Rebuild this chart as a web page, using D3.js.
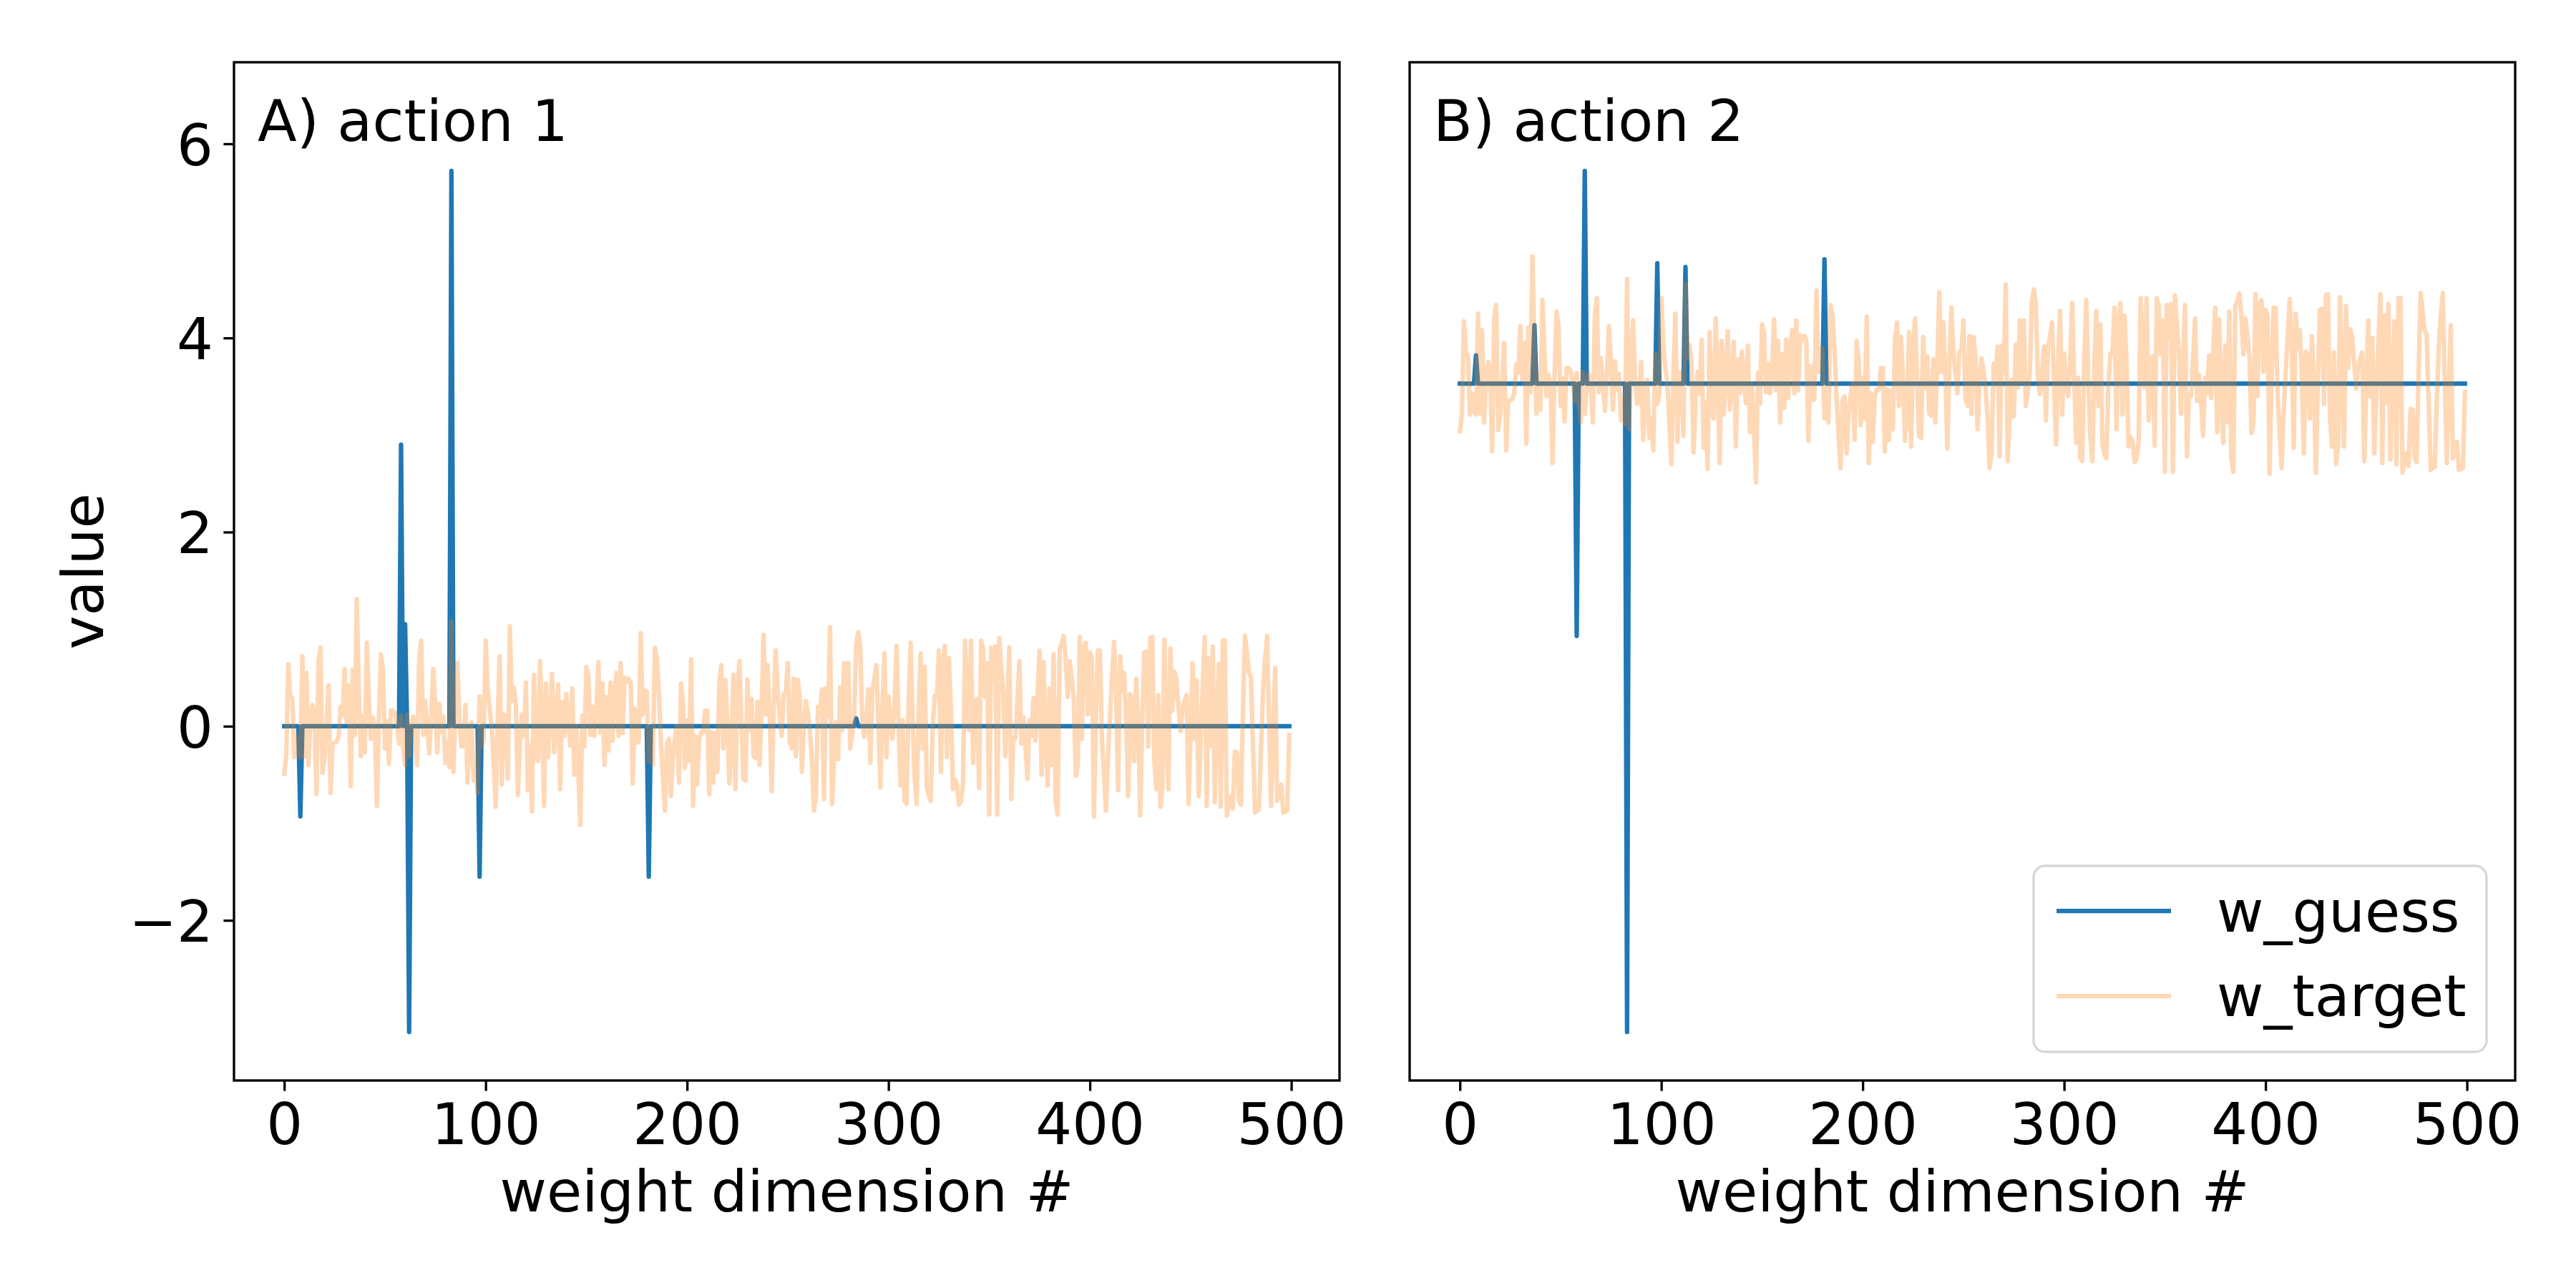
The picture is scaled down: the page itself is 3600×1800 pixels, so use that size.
<!DOCTYPE html>
<html><head><meta charset="utf-8">
<script src="https://cdn.jsdelivr.net/npm/d3@7"></script>
<style>body{margin:0;background:#fff}svg{display:block}</style>
</head><body><svg id="chart" width="3600" height="1800"></svg>
<script>
// ---------- data ----------
const xTicks = [0, 100, 200, 300, 400, 500];
const yTicks = [-2, 0, 2, 4, 6];
const panelTitles = ["A) action 1", "B) action 2"];
const seriesNames = ["w_guess", "w_target"];
const xLabelText = "weight dimension #";
const yLabelText = "value";

// w_guess polylines (index, value) – flat except for the spikes
const guess1X = [0,7,8,9,57,58,59,60,61,62,63,82,83,84,96,97,98,180,181,182,283,284,285,499];
const guess1Y = [0,0,-0.93,0,0,2.90,0,1.05,0,-3.15,0,0,5.72,0,0,-1.55,0,0,-1.55,0,0,0.08,0,0];
const guess2X = [0,7,8,9,36,37,38,57,58,59,61,62,63,82,83,84,97,98,99,111,112,113,180,181,182,499];
const guess2Y = [3.53,3.53,3.82,3.53,3.53,4.13,3.53,3.53,0.93,3.53,3.53,5.72,3.53,3.53,-3.15,3.53,3.53,4.77,3.53,3.53,4.73,3.53,3.53,4.81,3.53,3.53];

// w_target, one value per weight dimension 0..499
const target1 = [
-0.49,-0.31,0.64,0.31,0.29,-0.32,-0.10,-0.28,-0.32,0.72,
-0.31,0.55,-0.40,0.05,0.22,0.13,-0.70,0.67,0.81,-0.48,
-0.33,0.05,0.42,-0.69,-0.18,-0.17,-0.16,-0.10,0.20,0.11,
0.59,0.04,0.42,-0.62,0.58,-0.09,1.31,0.40,-0.31,0.10,
-0.27,0.86,0.30,-0.13,0.09,-0.04,-0.82,0.10,0.74,0.58,
-0.23,0.05,-0.39,0.16,0.16,0.13,0.01,-0.18,0.11,-0.21,
-0.40,0.12,-0.31,-0.01,0.10,-0.04,-0.40,0.70,0.88,-0.09,
0.26,0.00,-0.28,0.10,0.59,0.21,-0.27,0.23,-0.06,0.10,
-0.38,-0.16,-0.42,1.08,-0.47,0.20,0.65,0.05,-0.21,-0.20,
0.22,-0.58,-0.10,0.04,-0.56,-0.36,-0.69,0.31,-0.21,-0.13,
0.88,0.40,0.16,0.01,-0.40,-0.83,0.10,0.72,-0.60,0.12,
0.10,-0.54,1.03,0.26,0.40,0.22,-0.71,-0.20,0.12,-0.10,
0.45,-0.66,-0.20,-0.88,0.53,-0.31,-0.36,0.67,0.10,-0.82,
0.44,-0.32,0.10,0.54,-0.27,0.05,0.43,-0.65,0.25,-0.10,
0.33,0.04,-0.20,0.39,-0.50,0.00,-0.48,-1.02,0.11,-0.21,
0.61,0.53,-0.09,0.20,-0.10,0.20,0.66,-0.07,0.44,-0.40,
0.30,-0.25,0.45,-0.15,0.35,
0.55,-0.10,0.65,-0.07,0.50,0.45,0.49,0.45,-0.59,0.18,
-0.17,-0.16,0.96,0.12,0.37,0.36,-0.36,-0.05,-0.40,0.81,
0.70,0.35,-0.16,-0.53,-0.87,-0.18,-0.13,-0.72,-0.30,-0.11,
0.00,-0.58,0.44,0.23,-0.43,0.06,-0.36,0.69,-0.82,-0.10,
-0.60,-0.13,-0.06,-0.06,0.16,0.16,-0.70,-0.06,-0.58,-0.07,
-0.47,0.45,0.63,-0.23,0.48,0.04,-0.59,-0.21,0.53,-0.65,
0.37,0.67,0.04,-0.54,-0.56,0.48,-0.04,0.28,-0.31,-0.33,
0.25,-0.40,0.16,0.94,0.12,0.63,0.13,-0.67,0.16,0.78,
0.36,0.11,-0.10,0.33,0.34,0.65,-0.16,-0.23,0.49,-0.31,
0.48,0.28,-0.47,0.01,0.26,0.13,-0.04,-0.36,-0.87,-0.72,
0.20,0.13,0.38,-0.75,0.39,0.11,1.02,-0.80,-0.33,0.04,
-0.34,0.40,-0.04,0.65,0.01,0.65,-0.23,-0.09,0.11,0.85,
0.97,0.82,0.04,-0.11,0.06,0.38,-0.38,0.38,0.48,0.63,
0.01,-0.63,0.23,0.75,-0.32,0.31,0.01,-0.13,0.23,0.83,
0.04,-0.61,0.06,-0.77,-0.80,0.26,0.86,0.04,-0.53,-0.80,
0.18,0.75,-0.23,0.61,-0.63,-0.72,-0.77,0.01,0.31,0.31,
0.78,-0.47,0.63,0.83,-0.32,0.70,0.20,-0.65,
-0.55,-0.60,-0.81,-0.77,-0.60,0.88,0.40,-0.04,0.88,-0.38,
0.26,0.28,-0.64,0.88,0.80,0.30,0.65,-0.91,0.81,0.48,
0.82,-0.91,0.91,0.60,0.33,-0.31,0.20,0.81,-0.75,-0.11,
-0.13,0.25,0.67,-0.18,0.09,-0.20,-0.54,0.06,-0.10,0.29,
-0.15,0.30,0.78,-0.50,0.66,-0.09,-0.61,0.39,-0.40,0.74,
-0.77,-0.91,0.80,0.85,0.93,0.70,0.30,0.67,0.50,0.28,
-0.51,-0.40,0.92,-0.13,0.82,0.86,0.12,0.76,0.70,-0.93,
0.06,0.78,0.78,-0.13,-0.50,-0.87,-0.30,0.11,0.50,0.87,
0.36,-0.66,0.72,0.36,0.55,0.10,-0.72,0.33,0.29,-0.36,
0.49,0.04,-0.92,0.04,0.76,0.77,-0.21,0.91,0.92,-0.36,
-0.65,0.32,-0.83,-0.63,0.89,-0.06,-0.65,0.80,0.16,0.56,
0.48,0.20,-0.05,0.18,0.26,0.32,-0.80,-0.10,0.65,-0.13,
0.47,-0.72,-0.13,0.40,0.92,-0.82,0.70,-0.20,0.82,-0.78,
0.01,0.64,-0.83,0.88,0.88,-0.92,-0.80,-0.72,-0.85,-0.26,
-0.27,-0.76,-0.81,0.13,0.93,0.75,0.55,0.50,-0.20,-0.89,
-0.87,-0.86,-0.20,0.38,0.70,0.93,0.01,-0.82,-0.04,0.60,
-0.77,-0.70,-0.60,-0.89,-0.88,-0.87,-0.09
];
const target2 = [
3.04,3.22,4.17,3.84,3.82,3.21,3.43,3.25,3.21,4.25,
3.22,4.08,3.13,3.58,3.75,3.66,2.83,4.20,4.34,3.05,
3.20,3.58,3.95,2.84,3.35,3.36,3.37,3.43,3.73,3.64,
4.12,3.57,3.95,2.91,4.11,3.44,4.84,3.93,3.22,3.63,
3.26,4.39,3.83,3.40,3.62,3.49,2.71,3.63,4.27,4.11,
3.30,3.58,3.14,3.69,3.69,3.66,3.54,3.35,3.64,3.32,
3.13,3.65,3.22,3.52,3.63,3.49,3.13,4.23,4.41,3.44,
3.79,3.53,3.25,3.63,4.12,3.74,3.26,3.76,3.47,3.63,
3.15,3.37,3.11,4.61,3.06,3.73,4.18,3.58,3.32,3.33,
3.75,2.95,3.43,3.57,2.97,3.17,2.84,3.84,3.32,3.40,
4.41,3.93,3.69,3.54,3.13,2.70,3.63,4.25,2.93,3.65,
3.63,2.99,4.56,3.79,3.93,3.75,2.82,3.33,3.65,3.43,
3.98,2.87,3.33,2.65,4.06,3.22,3.17,4.20,3.63,2.71,
3.97,3.21,3.63,4.07,3.26,3.58,3.96,2.88,3.78,3.43,
3.86,3.57,3.33,3.92,3.03,3.53,3.05,2.51,3.64,3.32,
4.14,4.06,3.44,3.73,3.43,3.73,4.19,3.46,3.97,3.13,
3.83,3.28,3.98,3.38,3.88,
4.08,3.43,4.18,3.46,4.03,3.98,4.02,3.98,2.94,3.71,
3.36,3.37,4.49,3.65,3.90,3.89,3.17,3.48,3.13,4.34,
4.23,3.88,3.37,3.00,2.66,3.35,3.40,2.81,3.23,3.42,
3.53,2.95,3.97,3.76,3.10,3.59,3.17,4.22,2.71,3.43,
2.93,3.40,3.47,3.47,3.69,3.69,2.83,3.47,2.95,3.46,
3.06,3.98,4.16,3.30,4.01,3.57,2.94,3.32,4.06,2.88,
3.90,4.20,3.57,2.99,2.97,4.01,3.49,3.81,3.22,3.20,
3.78,3.13,3.69,4.47,3.65,4.16,3.66,2.86,3.69,4.31,
3.89,3.64,3.43,3.86,3.87,4.18,3.37,3.30,4.02,3.22,
4.01,3.81,3.06,3.54,3.79,3.66,3.49,3.17,2.66,2.81,
3.73,3.66,3.91,2.78,3.92,3.64,4.55,2.73,3.20,3.57,
3.19,3.93,3.49,4.18,3.54,4.18,3.30,3.44,3.64,4.38,
4.50,4.35,3.57,3.42,3.59,3.91,3.15,3.91,4.01,4.16,
3.54,2.90,3.76,4.28,3.21,3.84,3.54,3.40,3.76,4.36,
3.57,2.92,3.59,2.76,2.73,3.79,4.39,3.57,3.00,2.73,
3.71,4.28,3.30,4.14,2.90,2.81,2.76,3.54,3.84,3.84,
4.31,3.06,4.16,4.36,3.21,4.23,3.73,2.88,
2.98,2.93,2.72,2.76,2.93,4.41,3.93,3.49,4.41,3.15,
3.79,3.81,2.89,4.41,4.33,3.83,4.18,2.62,4.34,4.01,
4.35,2.62,4.44,4.13,3.86,3.22,3.73,4.34,2.78,3.42,
3.40,3.78,4.20,3.35,3.62,3.33,2.99,3.59,3.43,3.82,
3.38,3.83,4.31,3.03,4.19,3.44,2.92,3.92,3.13,4.27,
2.76,2.62,4.33,4.38,4.46,4.23,3.83,4.20,4.03,3.81,
3.02,3.13,4.45,3.40,4.35,4.39,3.65,4.29,4.23,2.60,
3.59,4.31,4.31,3.40,3.03,2.66,3.23,3.64,4.03,4.40,
3.89,2.87,4.25,3.89,4.08,3.63,2.81,3.86,3.82,3.17,
4.02,3.57,2.61,3.57,4.29,4.30,3.32,4.44,4.45,3.17,
2.88,3.85,2.70,2.90,4.42,3.47,2.88,4.33,3.69,4.09,
4.01,3.73,3.48,3.71,3.79,3.85,2.73,3.43,4.18,3.40,
4.00,2.81,3.40,3.93,4.45,2.71,4.23,3.33,4.35,2.75,
3.54,4.17,2.70,4.41,4.41,2.61,2.73,2.81,2.68,3.27,
3.26,2.77,2.72,3.66,4.46,4.28,4.08,4.03,3.33,2.64,
2.66,2.67,3.33,3.91,4.23,4.46,3.54,2.71,3.49,4.13,
2.76,2.83,2.93,2.64,2.65,2.66,3.44
];
const xDomain = [-24.95, 523.95];
const yDomain = [-3.65, 6.84];

// ---------- drawing ----------
const FONT = '"DejaVu Sans", sans-serif';
const FS = 80;
const C0 = "#1f77b4", C1 = "#ff7f0e";
const LW = 6.25, SW = 3.33, TICK = 14.6, PAD = 14.6;
const TOP = 87, BOTTOM = 1510;

const svg = d3.select("#chart");
svg.append("rect").attr("width", 3600).attr("height", 1800).attr("fill", "#fff");

const y = d3.scaleLinear().domain(yDomain).range([BOTTOM, TOP]);

const panels = [
  {x0: 327, x1: 1872, title: panelTitles[0], gx: guess1X, gy: guess1Y, t: target1, showY: true, legend: false},
  {x0: 1970, x1: 3515, title: panelTitles[1], gx: guess2X, gy: guess2Y, t: target2, showY: false, legend: true}
];

function styleAxis(g) {
  g.select(".domain").remove();
  g.selectAll(".tick line").attr("stroke", "#000").attr("stroke-width", SW);
  g.selectAll(".tick text").attr("fill", "#000").style("font-family", FONT).style("font-size", FS + "px");
}

panels.forEach(p => {
  const x = d3.scaleLinear().domain(xDomain).range([p.x0, p.x1]);
  const g = svg.append("g");
  const line = d3.line().x(d => x(d[0])).y(d => y(d[1]));

  g.append("path")
    .datum(p.gx.map((v, i) => [v, p.gy[i]]))
    .attr("d", line).attr("fill", "none")
    .attr("stroke", C0).attr("stroke-width", LW)
    .attr("stroke-linejoin", "round").attr("stroke-linecap", "square");

  g.append("path")
    .datum(p.t.map((v, i) => [i, v]))
    .attr("d", line).attr("fill", "none")
    .attr("stroke", C1).attr("stroke-opacity", 0.3).attr("stroke-width", LW)
    .attr("stroke-linejoin", "round").attr("stroke-linecap", "square");

  // frame
  g.append("rect").attr("x", p.x0).attr("y", TOP)
    .attr("width", p.x1 - p.x0).attr("height", BOTTOM - TOP)
    .attr("fill", "none").attr("stroke", "#000").attr("stroke-width", SW);

  // x axis
  const xa = g.append("g").attr("transform", `translate(0,${BOTTOM})`)
    .call(d3.axisBottom(x).tickValues(xTicks).tickSize(TICK).tickPadding(PAD).tickSizeOuter(0).tickFormat(d3.format("d")));
  styleAxis(xa);
  xa.selectAll(".tick text").attr("dy", "0.75em");

  g.append("text").text(xLabelText)
    .attr("x", (p.x0 + p.x1) / 2).attr("y", 1693)
    .attr("text-anchor", "middle")
    .style("font-family", FONT).style("font-size", FS + "px").attr("fill", "#000");

  if (p.showY) {
    const ya = g.append("g").attr("transform", `translate(${p.x0},0)`)
      .call(d3.axisLeft(y).tickValues(yTicks).tickSize(TICK).tickPadding(PAD).tickSizeOuter(0).tickFormat(d3.format("d")));
    styleAxis(ya);
    ya.selectAll(".tick text").attr("dy", "0.3645em");
    g.append("text").text(yLabelText)
      .attr("transform", `translate(144,${(TOP + BOTTOM) / 2}) rotate(-90)`)
      .attr("text-anchor", "middle")
      .style("font-family", FONT).style("font-size", FS + "px").attr("fill", "#000");
  }

  // panel title
  g.append("text").text(p.title)
    .attr("x", p.x0 + 33).attr("y", 197)
    .style("font-family", FONT).style("font-size", FS + "px").attr("fill", "#000");

  if (p.legend) {
    const lx = 2842, ly = 1210, lw = 633, lh = 260;
    const lg = g.append("g");
    lg.append("rect").attr("x", lx).attr("y", ly).attr("width", lw).attr("height", lh)
      .attr("rx", 16).attr("ry", 16)
      .attr("fill", "#fff").attr("fill-opacity", 0.8)
      .attr("stroke", "#cccccc").attr("stroke-opacity", 0.8).attr("stroke-width", SW);
    const rows = [
      {name: seriesNames[0], color: C0, op: 1, ly: 1273, ty: 1302},
      {name: seriesNames[1], color: C1, op: 0.3, ly: 1392, ty: 1420}
    ];
    rows.forEach(r => {
      lg.append("line").attr("x1", 2874).attr("x2", 3034).attr("y1", r.ly).attr("y2", r.ly)
        .attr("stroke", r.color).attr("stroke-opacity", r.op).attr("stroke-width", LW);
      lg.append("text").text(r.name).attr("x", 3098).attr("y", r.ty)
        .style("font-family", FONT).style("font-size", FS + "px").attr("fill", "#000");
    });
  }
});
</script>
</body></html>
